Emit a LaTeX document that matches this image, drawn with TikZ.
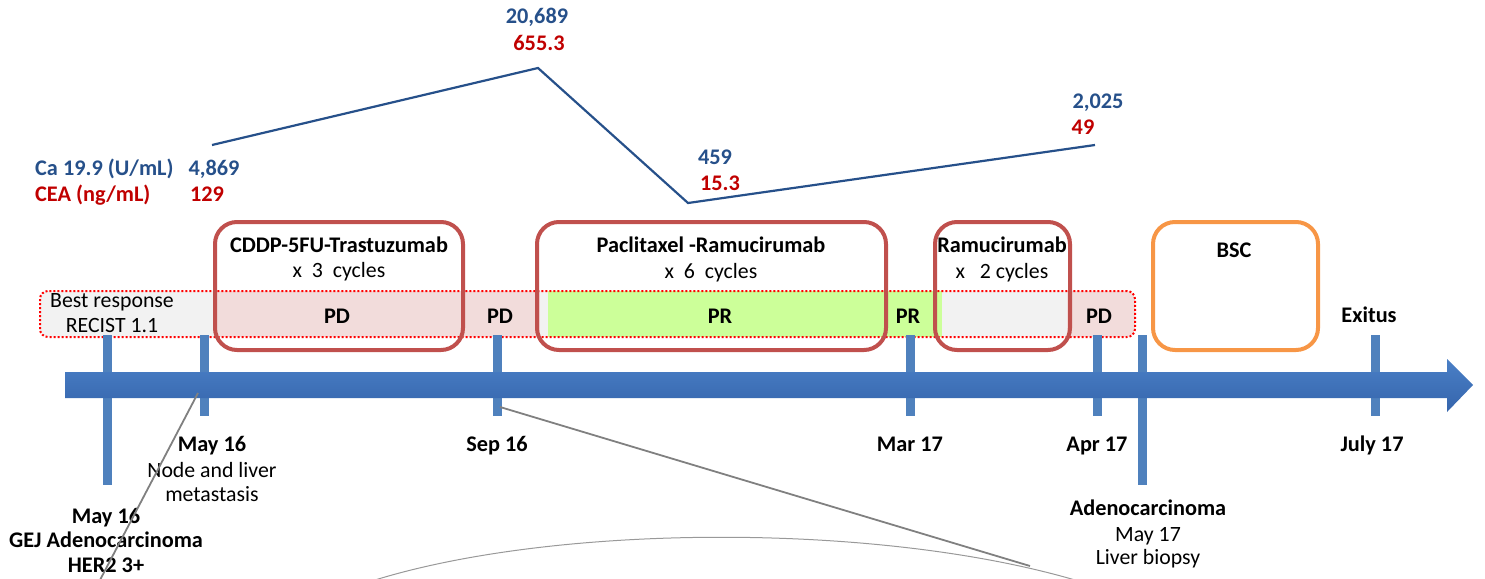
\documentclass[tikz,border=0pt]{standalone}
\usepackage{fontspec}
\setmainfont{Carlito}
\usepackage{xcolor}
\usepackage{tikz}

\definecolor{treatred}{HTML}{C0504D}
\definecolor{bscorange}{HTML}{F79646}
\definecolor{tickblue}{HTML}{4F81BD}
\definecolor{barlight}{HTML}{4A7FC6}
\definecolor{bardark}{HTML}{3565AC}
\definecolor{cablue}{HTML}{26508A}
\definecolor{ceared}{HTML}{C00000}
\definecolor{bandgray}{HTML}{F2F2F2}
\definecolor{bandpink}{HTML}{F2DCDB}
\definecolor{bandgreen}{HTML}{CCFF99}

\tikzset{
  lbl/.style={font=\fontsize{21.8}{25}\selectfont, anchor=base, inner sep=0pt},
  boldlbl/.style={font=\fontsize{22.3}{25}\selectfont\bfseries, anchor=base, inner sep=0pt},
  calbl/.style={boldlbl, text=cablue},
  cealbl/.style={boldlbl, text=ceared},
  treatbox/.style={draw=treatred, line width=4pt, rounded corners=22pt, inner sep=0pt},
  bscbox/.style={draw=bscorange, line width=4pt, rounded corners=22pt, inner sep=0pt},
  datetick/.style={draw=tickblue, line width=9pt},
  markerline/.style={draw=cablue, line width=2.2pt},
  zoomline/.style={draw=gray, line width=1.8pt},
}

\begin{document}
\begin{tikzpicture}[x=1pt, y=-1pt]
    \useasboundingbox (0,0) rectangle (1485,578);

    % response band
    \begin{scope}
        \clip[rounded corners=8pt] (40,291) rectangle (1135,337);
        \fill[bandgray]  (40,291)   rectangle (215,337);
        \fill[bandpink]  (215,291)  rectangle (540,337);
        \fill[bandgray]  (540,291)  rectangle (548,337);
        \fill[bandgreen] (548,291)  rectangle (942,337);
        \fill[bandgray]  (942,291)  rectangle (1067,337);
        \fill[bandpink]  (1067,291) rectangle (1135,337);
    \end{scope}
    \draw[red, line width=2pt, dotted, rounded corners=8pt] (40,291) rectangle (1135,337);

    \node[lbl] (best) at (112,307) {Best response};
    \node[lbl] (recist) at (112,332) {RECIST 1.1};
    \node[boldlbl] (pd1) at (337,323) {PD};
    \node[boldlbl] (pd2) at (500,323) {PD};
    \node[boldlbl] (pr1) at (720,323) {PR};
    \node[boldlbl] (pr2) at (908,323) {PR};
    \node[boldlbl] (pd3) at (1099,323) {PD};
    \node[boldlbl] (exitus) at (1369,322) {Exitus};

    % treatment boxes
    \node[treatbox, minimum width=248pt, minimum height=128pt] (cddp) at (339,286) {};
    \node[treatbox, minimum width=349pt, minimum height=128pt] (pacli) at (711.5,286) {};
    \node[treatbox, minimum width=135pt, minimum height=128pt] (ramu) at (1002.5,286) {};
    \node[bscbox, minimum width=165pt, minimum height=128pt] (bsc) at (1235.5,286) {};

    \node[boldlbl] (cddptitle) at (339,252) {CDDP-5FU-Trastuzumab};
    \node[lbl] (cddpcyc) at (339,277) {x\ \ 3\ \ cycles};
    \node[boldlbl] (paclititle) at (711,252) {Paclitaxel -Ramucirumab};
    \node[lbl] (paclicyc) at (711,278) {x\ \ 6\ \ cycles};
    \node[boldlbl] (ramutitle) at (1002,252) {Ramucirumab};
    \node[lbl] (ramucyc) at (1002,278) {x\ \ \ 2 cycles};
    \node[boldlbl] (bsctitle) at (1234,257) {BSC};

    % ticks and time axis
    \foreach \x/\yb in {107/485, 204/416, 497/416, 910/416, 1097/416, 1142/485, 1375/416}
        \draw[datetick] (\x,335) -- (\x,\yb);
    \shade[top color=barlight, bottom color=bardark]
        (65,372) -- (1447,372) -- (1447,359) -- (1473,385) -- (1447,412)
        -- (1447,398) -- (65,398) -- cycle;

    % dates
    \node[boldlbl] (d1) at (212,451) {May 16};
    \node[lbl] (d1a) at (212,477) {Node and liver};
    \node[lbl] (d1b) at (212,501) {metastasis};
    \node[boldlbl] (d0) at (106,523) {May 16};
    \node[boldlbl] (d0a) at (106,547) {GEJ Adenocarcinoma};
    \node[boldlbl] (d0b) at (106,572) {HER2 3+};
    \node[boldlbl] (d2) at (497,451) {Sep 16};
    \node[boldlbl] (d3) at (910,451) {Mar 17};
    \node[boldlbl] (d4) at (1097,451) {Apr 17};
    \node[boldlbl] (d5) at (1372,451) {July 17};
    \node[boldlbl] (bx) at (1148,515) {Adenocarcinoma};
    \node[lbl] (bxa) at (1148,541) {May 17};
    \node[lbl] (bxb) at (1148,564) {Liver biopsy};

    % tumour markers
    \node[calbl, anchor=base west] (calabel) at (35,175) {Ca 19.9 (U/mL)};
    \node[cealbl, anchor=base west] (cealabel) at (35,201) {CEA (ng/mL)};
    \node[calbl] (ca1) at (214,175) {4,869};
    \node[cealbl] (cea1) at (207,201) {129};
    \node[calbl] (ca2) at (537,24) {20,689};
    \node[cealbl] (cea2) at (539,51) {655.3};
    \node[calbl] (ca3) at (715,164) {459};
    \node[cealbl] (cea3) at (720,190) {15.3};
    \node[calbl] (ca4) at (1098,108) {2,025};
    \node[cealbl] (cea4) at (1083,134) {49};

    \coordinate (m1) at (212,145);
    \coordinate (m2) at (538,68);
    \coordinate (m3) at (688,203);
    \coordinate (m4) at (1095,145);
    \draw[markerline] (m1) -- (m2) -- (m3) -- (m4);

    % zoom lines
    \coordinate (za) at (198,393);
    \coordinate (zaend) at (100,580);
    \coordinate (zb) at (500,407);
    \coordinate (zbend) at (1030,566);
    \draw[zoomline] (za) -- (zaend);
    \draw[zoomline] (zb) -- (zbend);
    \draw[gray!80, line width=1pt] (375,580) .. controls (560,523) and (880,523) .. (1075,580);
\end{tikzpicture}
\end{document}
